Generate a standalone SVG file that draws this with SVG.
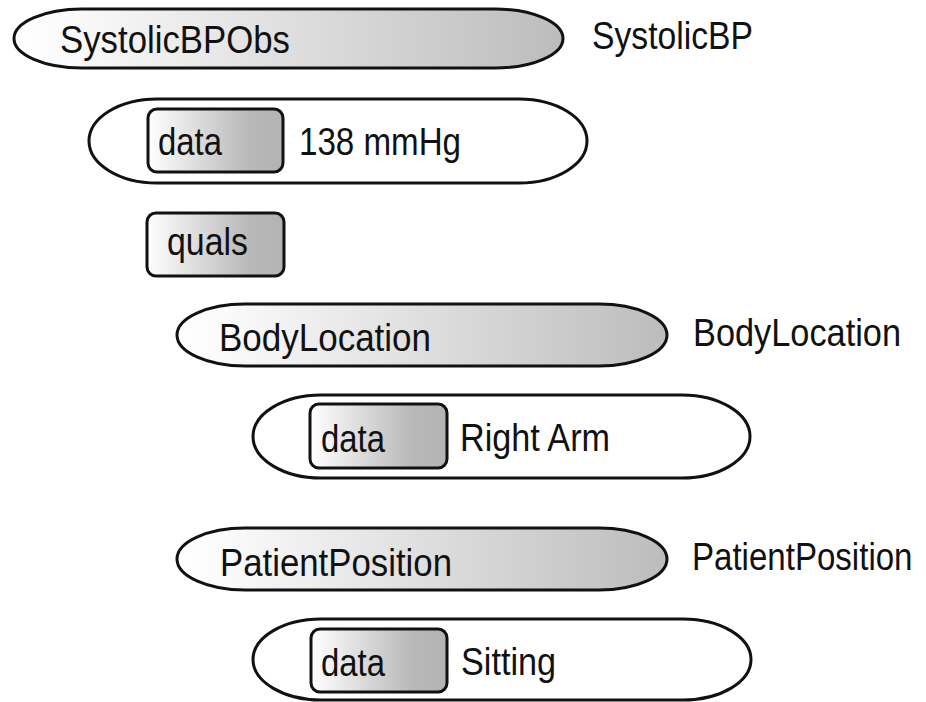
<svg xmlns="http://www.w3.org/2000/svg" width="926" height="702" viewBox="0 0 926 702">
<defs>
<linearGradient id="gPill" x1="0" y1="0" x2="1" y2="0">
<stop offset="0" stop-color="#ffffff"/>
<stop offset="0.1" stop-color="#fafafa"/>
<stop offset="1" stop-color="#bcbcbc"/>
</linearGradient>
<linearGradient id="gBox" x1="0" y1="0" x2="1" y2="0">
<stop offset="0" stop-color="#ffffff"/>
<stop offset="0.75" stop-color="#b8b8b8"/>
<stop offset="1" stop-color="#b3b3b3"/>
</linearGradient>
</defs>
<style>
.pill{fill:url(#gPill);stroke:#111;stroke-width:3}
.val{fill:#fff;stroke:#111;stroke-width:3}
.box{fill:url(#gBox);stroke:#111;stroke-width:3}
text{font-family:"Liberation Sans",Arial,sans-serif;font-size:38px;fill:#111}
</style>
<rect width="926" height="702" fill="#fff"/>
<g id="connectors"/>
<g id="n-systolicbpobs">
<rect class="pill" x="14" y="9" width="549" height="59" rx="68" ry="29.5"/>
<text x="60" y="53" textLength="230" lengthAdjust="spacingAndGlyphs">SystolicBPObs</text>
<text x="592" y="49" textLength="161" lengthAdjust="spacingAndGlyphs">SystolicBP</text>
</g>
<g id="n-value1">
<rect class="val" x="89" y="99" width="498" height="84" rx="68" ry="42"/>
<rect class="box" x="148" y="109" width="135" height="63" rx="9"/>
<text x="158" y="155" textLength="64" lengthAdjust="spacingAndGlyphs">data</text>
<text x="299" y="155" textLength="162" lengthAdjust="spacingAndGlyphs">138 mmHg</text>
</g>
<g id="n-quals">
<rect class="box" x="147" y="213" width="137" height="63" rx="9"/>
<text x="167" y="255" textLength="81" lengthAdjust="spacingAndGlyphs">quals</text>
</g>
<g id="n-bodylocation">
<rect class="pill" x="177" y="304" width="490" height="62" rx="68" ry="31"/>
<text x="219" y="351" textLength="212" lengthAdjust="spacingAndGlyphs">BodyLocation</text>
<text x="693" y="346" textLength="208" lengthAdjust="spacingAndGlyphs">BodyLocation</text>
</g>
<g id="n-value2">
<rect class="val" x="253" y="395" width="497" height="83" rx="68" ry="41.5"/>
<rect class="box" x="310" y="404" width="137" height="64" rx="9"/>
<text x="321" y="452" textLength="64" lengthAdjust="spacingAndGlyphs">data</text>
<text x="460" y="451" textLength="150" lengthAdjust="spacingAndGlyphs">Right Arm</text>
</g>
<g id="n-patientposition">
<rect class="pill" x="177" y="528" width="490" height="62" rx="68" ry="31"/>
<text x="220" y="576" textLength="232" lengthAdjust="spacingAndGlyphs">PatientPosition</text>
<text transform="translate(692 570) scale(0.87 1)" x="0" y="0">PatientPosition</text>
</g>
<g id="n-value3">
<rect class="val" x="253" y="619" width="498" height="81" rx="68" ry="40.5"/>
<rect class="box" x="311" y="629" width="136" height="63" rx="9"/>
<text x="321" y="676" textLength="64" lengthAdjust="spacingAndGlyphs">data</text>
<text x="461" y="675" textLength="95" lengthAdjust="spacingAndGlyphs">Sitting</text>
</g>
</svg>
